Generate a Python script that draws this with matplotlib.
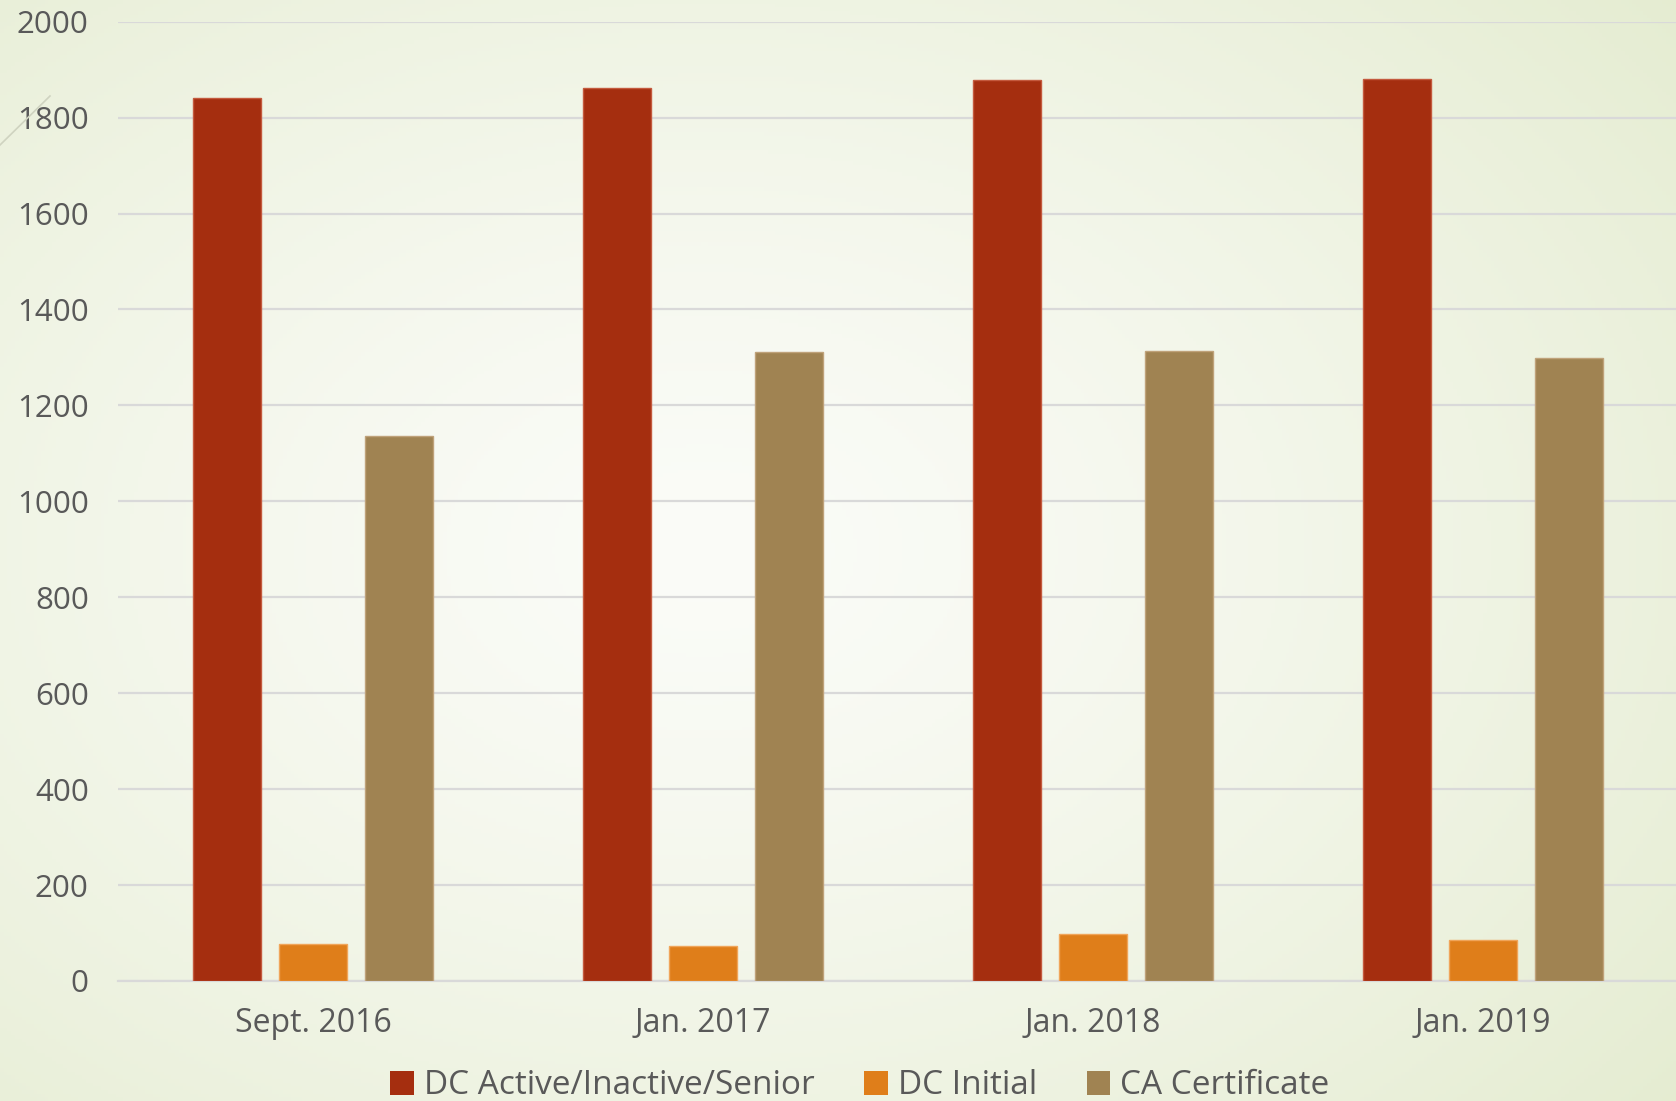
import numpy as np
import matplotlib
matplotlib.use("Agg")
import matplotlib.pyplot as plt
from matplotlib.lines import Line2D
from matplotlib.patches import Patch

categories = ["Sept. 2016", "Jan. 2017", "Jan. 2018", "Jan. 2019"]
series_names = ["DC Active/Inactive/Senior", "DC Initial", "CA Certificate"]
dc_active = [1840, 1862, 1878, 1880]
dc_initial = [78, 73, 99, 85]
ca_certificate = [1136, 1312, 1314, 1298]
y_ticks = [0, 200, 400, 600, 800, 1000, 1200, 1400, 1600, 1800, 2000]

colors = ["#A52E0F", "#DF7E1A", "#A08352"]
edge_colors = ["#C45A3E", "#F0A55A", "#BFA27A"]
text_color = "#595959"
grid_color = "#D9D9D9"

plt.rcParams['font.family'] = ['Open Sans', 'DejaVu Sans']

W, H = 1676, 1101
fig = plt.figure(figsize=(W / 100, H / 100), dpi=100)

# slide background: soft radial gradient, lighter near the middle
bg = fig.add_axes([0, 0, 1, 1], zorder=-10)
yy, xx = np.mgrid[0:1:300j, 0:1:450j]
r = np.sqrt(((xx - 0.42) / 0.8) ** 2 + ((yy - 0.5) / 0.85) ** 2)
r = np.clip(r, 0, 1) ** 1.3
c0 = np.array([0xFB, 0xFC, 0xF8]) / 255.0
c1 = np.array([0xE3, 0xEB, 0xCE]) / 255.0
img = c0[None, None, :] * (1 - r[..., None]) + c1[None, None, :] * r[..., None]
bg.imshow(img, aspect="auto", extent=[0, 1, 0, 1], origin="upper")
bg.set_axis_off()

# faint decorative line top-left
fig.add_artist(Line2D([0, 50 / W], [1 - 145 / H, 1 - 96 / H], color="#CFD3C0", lw=1.2))

ax = fig.add_axes([118 / W, 1 - 981 / H, 1560 / W, (981 - 21.7) / H])
ax.set_facecolor("none")

x = np.arange(len(categories))
width = 68 / 390
step = 86 / 390
for i, vals in enumerate([dc_active, dc_initial, ca_certificate]):
    ax.bar(x + (i - 1) * step, vals, width, color=colors[i],
           edgecolor=edge_colors[i], linewidth=1, zorder=3, label=series_names[i])

ax.set_xlim(-0.5, len(categories) - 0.5)
ax.set_ylim(0, 2000)
ax.set_yticks(y_ticks)
ax.set_xticks(x)
ax.set_xticklabels(categories)
ax.yaxis.grid(True, color=grid_color, lw=1.6, zorder=0)
ax.set_axisbelow(True)
for s in ["top", "right", "left"]:
    ax.spines[s].set_visible(False)
ax.spines["bottom"].set_color(grid_color)
ax.spines["bottom"].set_linewidth(1.6)
ax.tick_params(axis="y", length=0, pad=21, labelsize=22.5, labelcolor=text_color)
ax.tick_params(axis="x", length=0, pad=19, labelsize=23, labelcolor=text_color)

handles = [Patch(facecolor=c, edgecolor="none") for c in colors]
fig.legend(handles, series_names, loc="center", bbox_to_anchor=(860 / W, 1 - 1086 / H),
           ncol=3, frameon=False, fontsize=24, labelcolor=text_color,
           handlelength=0.7, handleheight=0.7, handletextpad=0.3, columnspacing=1.5)

fig.savefig("out.png", dpi=100)
